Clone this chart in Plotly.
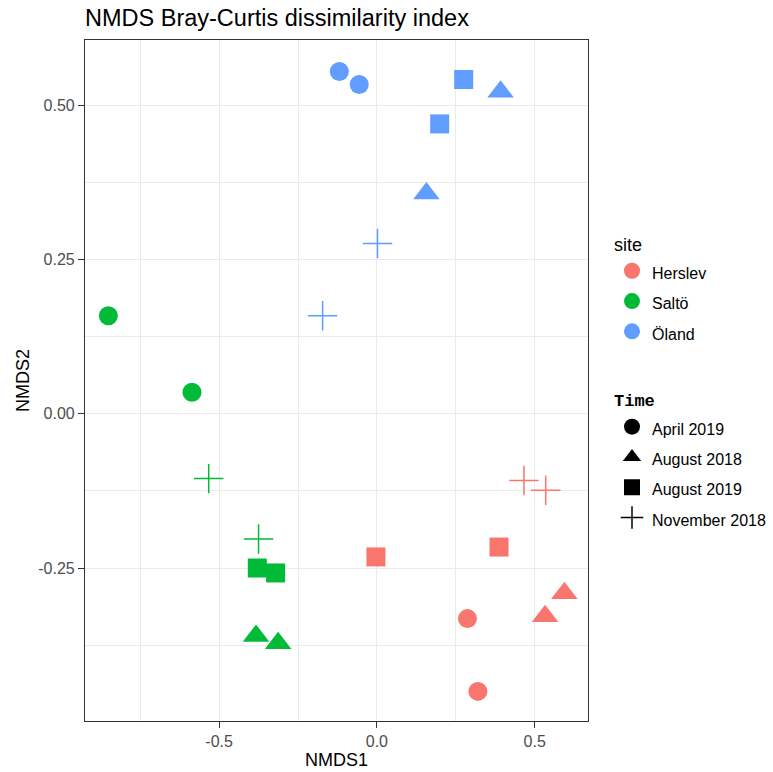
import plotly.graph_objects as go

# ---- data ----
sites = ["Herslev"] * 8 + ["Saltö"] * 8 + ["Öland"] * 8
times = ["April 2019", "April 2019", "August 2018", "August 2018",
         "August 2019", "August 2019", "November 2018", "November 2018"] * 3
nmds1 = [0.287, 0.320, 0.594, 0.533, 0.387, -0.003, 0.466, 0.535,
         -0.851, -0.586, -0.383, -0.313, -0.379, -0.321, -0.533, -0.375,
         -0.119, -0.056, 0.392, 0.157, 0.275, 0.199, 0.002, -0.172]
nmds2 = [-0.332, -0.450, -0.291, -0.328, -0.216, -0.232, -0.108, -0.124,
         0.159, 0.035, -0.360, -0.372, -0.250, -0.258, -0.105, -0.203,
         0.555, 0.534, 0.522, 0.357, 0.542, 0.470, 0.276, 0.159]

site_levels = ["Herslev", "Saltö", "Öland"]
time_levels = ["April 2019", "August 2018", "August 2019", "November 2018"]
site_colors = {"Herslev": "#F8766D", "Saltö": "#00BA38", "Öland": "#619CFF"}
time_symbols = {"April 2019": "circle", "August 2018": "triangle-up",
                "August 2019": "square", "November 2018": "cross-thin"}
time_sizes = {"April 2019": 19, "August 2018": 23, "August 2019": 19, "November 2018": 21}

x_tickvals = [-0.5, 0.0, 0.5]
x_ticktext = ["-0.5", "0.0", "0.5"]
y_tickvals = [-0.25, 0.0, 0.25, 0.5]
y_ticktext = ["-0.25", "0.00", "0.25", "0.50"]

FONT = "Liberation Sans, Arial, sans-serif"

fig = go.Figure()

# data points
for s in site_levels:
    for t in time_levels:
        idx = [i for i in range(len(sites)) if sites[i] == s and times[i] == t]
        fig.add_trace(go.Scatter(
            x=[nmds1[i] for i in idx], y=[nmds2[i] for i in idx],
            mode="markers", showlegend=False, hoverinfo="x+y",
            marker=dict(symbol=time_symbols[t], size=time_sizes[t],
                        color=site_colors[s],
                        line=dict(width=1.5 if t == "November 2018" else 0,
                                  color=site_colors[s])),
        ))

# legend: site
for s in site_levels:
    fig.add_trace(go.Scatter(
        x=[None], y=[None], mode="markers", legend="legend",
        name=f"<span style='font-size:16px'>{s}</span>",
        marker=dict(symbol="circle", size=19, color=site_colors[s])))

# legend: Time
for t in time_levels:
    fig.add_trace(go.Scatter(
        x=[None], y=[None], mode="markers", legend="legend2",
        name=f"<span style='font-size:16px'>{t}</span>",
        marker=dict(symbol=time_symbols[t], size=time_sizes[t], color="black",
                    line=dict(width=1.5 if t == "November 2018" else 0, color="black"))))

axis_common = dict(
    showgrid=True, gridcolor="#EBEBEB", gridwidth=1.1,
    zeroline=False, showline=True, mirror=True, linecolor="#333333", linewidth=1.1,
    ticks="outside", ticklen=6, tickwidth=1.1, tickcolor="#333333",
    tickfont=dict(family=FONT, size=16, color="#4D4D4D"),
    title_font=dict(family=FONT, size=18, color="black"),
    automargin=False,
)

fig.update_layout(
    width=773, height=772,
    margin=dict(l=85, r=185, t=40, b=51),
    paper_bgcolor="white", plot_bgcolor="white",
    font=dict(family=FONT, color="black"),
    title=dict(text="NMDS Bray-Curtis dissimilarity index",
               font=dict(family=FONT, size=23.5, color="black"),
               x=0, xref="paper", xanchor="left",
               y=1 - 18 / 772, yref="container", yanchor="middle"),
    xaxis=dict(range=[-0.925, 0.669], tickvals=x_tickvals, ticktext=x_ticktext,
               minor=dict(dtick=0.25, tick0=0.25, showgrid=True, gridcolor="#EBEBEB", gridwidth=0.6, ticks=""),
               title=dict(text="NMDS1", standoff=4), **axis_common),
    yaxis=dict(range=[-0.498, 0.606], tickvals=y_tickvals, ticktext=y_ticktext,
               minor=dict(dtick=0.125, tick0=0.125, showgrid=True, gridcolor="#EBEBEB", gridwidth=0.6, ticks=""),
               title=dict(text="NMDS2", standoff=3), **axis_common),
    legend=dict(x=612 / 773, y=1 - 215.5 / 772, xref="container", yref="container",
                xanchor="left", yanchor="top",
                title=dict(text="<span style='font-size:18px'>site</span>",
                           font=dict(family=FONT, size=27, color="black")),
                font=dict(family=FONT, size=21, color="black"),
                itemsizing="trace", bgcolor="rgba(0,0,0,0)"),
    legend2=dict(x=612 / 773, y=1 - 372.7 / 772, xref="container", yref="container",
                 xanchor="left", yanchor="top",
                 title=dict(text="<b><span style='font-size:17px'>Time</span></b>",
                            font=dict(family="Liberation Mono, Courier New, monospace", size=26, color="black")),
                 font=dict(family=FONT, size=21, color="black"),
                 itemsizing="trace", bgcolor="rgba(0,0,0,0)"),
)

fig.write_html("out.html")
